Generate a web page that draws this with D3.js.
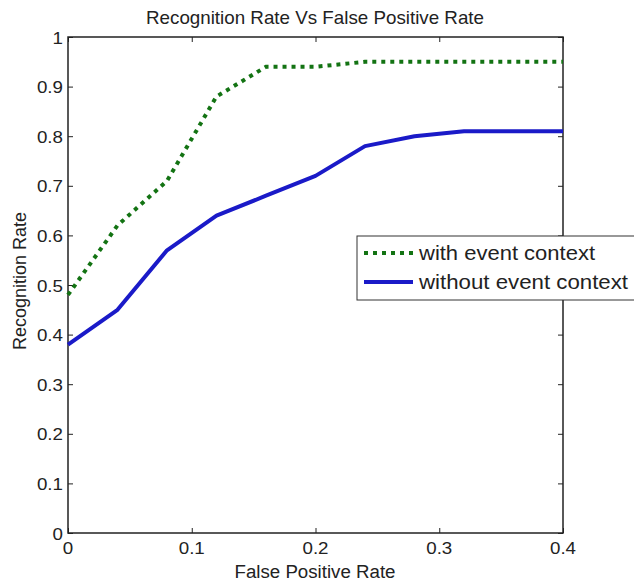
<!DOCTYPE html>
<meta charset="utf-8">
<style>
body { margin: 0; background: #fff; }
text { font-family: "Liberation Sans", Arial, sans-serif; fill: #222; }
</style>
<body>
<div id="chart"></div>
</body>
<script src="https://d3js.org/d3.v7.min.js"></script>
<script>

    var fpr = [0, 0.04, 0.08, 0.12, 0.16, 0.2, 0.24, 0.28, 0.32, 0.36, 0.4];
    var withContext = [0.48, 0.62, 0.71, 0.88, 0.94, 0.94, 0.95, 0.95, 0.95, 0.95, 0.95];
    var withoutContext = [0.38, 0.45, 0.57, 0.64, 0.68, 0.72, 0.78, 0.80, 0.81, 0.81, 0.81];
    var xTicks = [0, 0.1, 0.2, 0.3, 0.4];
    var yTicks = [0, 0.1, 0.2, 0.3, 0.4, 0.5, 0.6, 0.7, 0.8, 0.9, 1];
    var seriesNames = ["with event context", "without event context"];

    var width = 634, height = 583;
    var mLeft = 68, mRight = 563, mTop = 37, mBottom = 533;

    var svg = d3.select("#chart").append("svg")
            .attr("width", width)
            .attr("height", height);

    var x = d3.scaleLinear().domain([0, 0.4]).range([mLeft, mRight]);
    var y = d3.scaleLinear().domain([0, 1]).range([mBottom, mTop]);

    // inward ticks on all four sides, like a matlab box
    svg.append("g").attr("transform", "translate(0," + mBottom + ")")
        .call(d3.axisTop(x).tickValues(xTicks).tickSize(5).tickFormat(""));
    svg.append("g").attr("transform", "translate(0," + mTop + ")")
        .call(d3.axisBottom(x).tickValues(xTicks).tickSize(5).tickFormat(""));
    svg.append("g").attr("transform", "translate(" + mLeft + ",0)")
        .call(d3.axisRight(y).tickValues(yTicks).tickSize(5).tickFormat(""));
    svg.append("g").attr("transform", "translate(" + mRight + ",0)")
        .call(d3.axisLeft(y).tickValues(yTicks).tickSize(5).tickFormat(""));
    svg.selectAll(".domain").remove();
    svg.selectAll(".tick line").attr("stroke", "#222");

    svg.append("rect")
        .attr("x", mLeft).attr("y", mTop)
        .attr("width", mRight - mLeft).attr("height", mBottom - mTop)
        .attr("fill", "none").attr("stroke", "#222").attr("stroke-width", 1.5);

    // tick labels, a little wider than the font draws them
    function widen(sel) {
        sel.each(function() {
            var w = this.getComputedTextLength();
            d3.select(this).attr("textLength", w * 1.17).attr("lengthAdjust", "spacingAndGlyphs");
        });
    }

    svg.selectAll(".xlab").data(xTicks).enter().append("text")
        .attr("x", function(d) { return x(d); })
        .attr("y", mBottom + 21)
        .attr("text-anchor", "middle")
        .style("font-size", "16px")
        .text(function(d) { return d; })
        .call(widen);

    svg.selectAll(".ylab").data(yTicks).enter().append("text")
        .attr("x", mLeft - 5)
        .attr("y", function(d) { return y(d) + 6.5; })
        .attr("text-anchor", "end")
        .style("font-size", "16px")
        .text(function(d) { return d; })
        .call(widen);

    var line = d3.line()
        .x(function(d, i) { return x(fpr[i]); })
        .y(function(d) { return y(d); });

    svg.append("path").datum(withoutContext)
        .attr("d", line)
        .attr("fill", "none").attr("stroke", "#1a1ac8")
        .attr("stroke-width", 4).attr("stroke-linejoin", "round");

    svg.append("path").datum(withContext)
        .attr("d", line)
        .attr("fill", "none").attr("stroke", "#137313")
        .attr("stroke-width", 4).attr("stroke-dasharray", "4,5");

    svg.append("text")
        .attr("x", 315).attr("y", 24)
        .attr("text-anchor", "middle")
        .attr("textLength", 338).attr("lengthAdjust", "spacingAndGlyphs")
        .style("font-size", "19px")
        .text("Recognition Rate Vs False Positive Rate");

    svg.append("text")
        .attr("x", 315).attr("y", 578)
        .attr("text-anchor", "middle")
        .attr("textLength", 161).attr("lengthAdjust", "spacingAndGlyphs")
        .style("font-size", "18px")
        .text("False Positive Rate");

    svg.append("text")
        .attr("transform", "translate(26,281) rotate(-90)")
        .attr("text-anchor", "middle")
        .attr("textLength", 138).attr("lengthAdjust", "spacingAndGlyphs")
        .style("font-size", "18px")
        .text("Recognition Rate");

    // legend, its right side runs off the figure
    var legend = svg.append("g");
    legend.append("rect")
        .attr("x", 357).attr("y", 236)
        .attr("width", 300).attr("height", 64)
        .attr("fill", "#fff").attr("stroke", "#333").attr("stroke-width", 1);

    var styles = [
        { color: "#137313", dash: "4,5", len: 176 },
        { color: "#1a1ac8", dash: null, len: 209 }
    ];
    seriesNames.forEach(function(name, i) {
        var yy = 253 + i * 29;
        legend.append("line")
            .attr("x1", 364).attr("x2", 413)
            .attr("y1", yy).attr("y2", yy)
            .attr("stroke", styles[i].color).attr("stroke-width", 4)
            .attr("stroke-dasharray", styles[i].dash);
        legend.append("text")
            .attr("x", 419).attr("y", yy + 7)
            .attr("textLength", styles[i].len).attr("lengthAdjust", "spacingAndGlyphs")
            .style("font-size", "21px")
            .text(name);
    });

</script>
